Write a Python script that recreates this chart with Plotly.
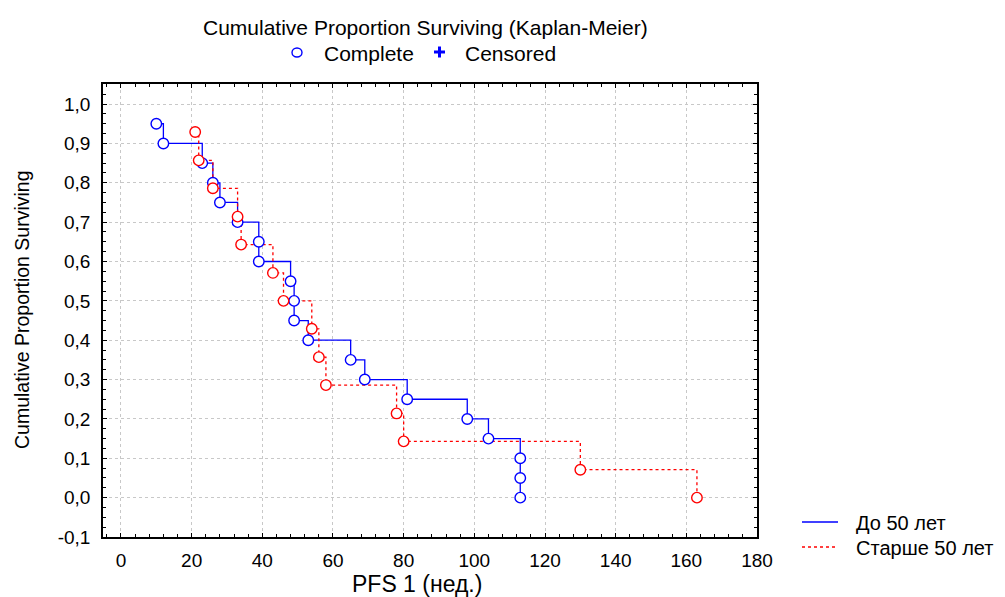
import plotly.graph_objects as go

# ---- data ----
young_time = [10, 12, 23, 26, 28, 33, 39, 39, 48, 49, 49, 53, 65, 69, 81, 98, 104, 113, 113, 113]
young_surv = [0.95, 0.90, 0.85, 0.80, 0.75, 0.70, 0.65, 0.60, 0.55, 0.50,
              0.45, 0.40, 0.35, 0.30, 0.25, 0.20, 0.15, 0.10, 0.05, 0.00]
old_time = [21, 22, 26, 33, 34, 43, 46, 54, 56, 58, 78, 80, 130, 163]
old_surv = [0.929, 0.857, 0.786, 0.714, 0.643, 0.571, 0.500, 0.429,
            0.357, 0.286, 0.214, 0.143, 0.071, 0.000]

x_ticks = [0, 20, 40, 60, 80, 100, 120, 140, 160, 180]
x_tick_labels = ["0", "20", "40", "60", "80", "100", "120", "140", "160", "180"]
y_ticks = [-0.1, 0.0, 0.1, 0.2, 0.3, 0.4, 0.5, 0.6, 0.7, 0.8, 0.9, 1.0]
y_tick_labels = ["-0,1", "0,0", "0,1", "0,2", "0,3", "0,4", "0,5", "0,6", "0,7", "0,8", "0,9", "1,0"]

series_names = ["До 50 лет", "Старше 50 лет"]
title_text = "Cumulative Proportion Surviving (Kaplan-Meier)"
x_title = "PFS 1 (нед.)"
y_title = "Cumulative Proportion Surviving"

BLUE = "#0000FF"
RED = "#FF0000"
FONT = "Liberation Sans, Arial, sans-serif"

W, H = 1005, 597
L, R, T, B = 103, 757, 84, 537  # plot area in pixels


def px(xp):
    return (xp - L) / (R - L)


def py(yp):
    return (B - yp) / (B - T)


fig = go.Figure()

# step lines
fig.add_trace(go.Scatter(x=young_time, y=young_surv, mode="lines", line_shape="hv",
                         line=dict(color=BLUE, width=1.3), showlegend=False, hoverinfo="skip"))
fig.add_trace(go.Scatter(x=old_time, y=old_surv, mode="lines", line_shape="hv",
                         line=dict(color=RED, width=1.3, dash="dot"), showlegend=False, hoverinfo="skip"))
# complete markers
fig.add_trace(go.Scatter(x=young_time, y=young_surv, mode="markers",
                         marker=dict(symbol="circle", size=10.5, color="white",
                                     line=dict(color=BLUE, width=1.4)), showlegend=False))
fig.add_trace(go.Scatter(x=old_time, y=old_surv, mode="markers",
                         marker=dict(symbol="circle", size=10.5, color="white",
                                     line=dict(color=RED, width=1.4)), showlegend=False))

axis_common = dict(
    showline=True, linecolor="black", linewidth=1.5, mirror="allticks",
    ticks="inside", ticklen=4, tickcolor="black", tickwidth=1,
    showgrid=True, gridcolor="#c8c8c8", griddash="dot", gridwidth=1,
    zeroline=False, tickfont=dict(family=FONT, size=19, color="black"),
)

fig.update_xaxes(range=[-5.09, 180], tickvals=x_ticks, ticktext=x_tick_labels,
                 minor=dict(dtick=4, tick0=0, ticks="inside", ticklen=3, tickcolor="black", showgrid=False),
                 ticklabelstandoff=5, **axis_common)
fig.update_yaxes(range=[-0.1, 1.051], tickvals=y_ticks, ticktext=y_tick_labels,
                 minor=dict(dtick=0.025, tick0=0, ticks="inside", ticklen=3, tickcolor="black", showgrid=False),
                 ticklabelstandoff=7, **axis_common)

annotations = [
    dict(text=title_text, x=px(425), y=py(27), xanchor="center", yanchor="middle",
         font=dict(family=FONT, size=21, color="black")),
    dict(text="Complete", x=px(322), y=py(53), xanchor="left", yanchor="middle",
         font=dict(family=FONT, size=21, color="black")),
    dict(text="Censored", x=px(463), y=py(53), xanchor="left", yanchor="middle",
         font=dict(family=FONT, size=21, color="black")),
    dict(text=x_title, x=px(417), y=py(584), xanchor="center", yanchor="middle",
         font=dict(family=FONT, size=23, color="black")),
    dict(text=y_title, x=px(22), y=py(310), xanchor="center", yanchor="middle", textangle=-90,
         font=dict(family=FONT, size=19.5, color="black")),
    dict(text=series_names[0], x=px(854), y=py(523), xanchor="left", yanchor="middle",
         font=dict(family=FONT, size=20, color="black")),
    dict(text=series_names[1], x=px(854), y=py(548), xanchor="left", yanchor="middle",
         font=dict(family=FONT, size=20, color="black")),
]
for a in annotations:
    a.update(xref="paper", yref="paper", showarrow=False)

shapes = [
    # top legend: open circle (Complete)
    dict(type="circle", x0=px(292), x1=px(302), y0=py(48), y1=py(57),
         line=dict(color=BLUE, width=1.4), fillcolor="white"),
    # plus (Censored)
    dict(type="line", x0=px(434), x1=px(445), y0=py(52), y1=py(52), line=dict(color=BLUE, width=3)),
    dict(type="line", x0=px(439.5), x1=px(439.5), y0=py(46.5), y1=py(57.5), line=dict(color=BLUE, width=3)),
    # bottom-right legend samples
    dict(type="line", x0=px(802), x1=px(838), y0=py(522), y1=py(522), line=dict(color=BLUE, width=1.3)),
    dict(type="line", x0=px(802), x1=px(838), y0=py(547), y1=py(547),
         line=dict(color=RED, width=1.3, dash="dot")),
]
for s in shapes:
    s.update(xref="paper", yref="paper")

fig.update_layout(
    width=W, height=H,
    margin=dict(l=L, r=W - R, t=T, b=H - B, pad=0),
    paper_bgcolor="white", plot_bgcolor="white",
    annotations=annotations, shapes=shapes,
    showlegend=False,
    font=dict(family=FONT, color="black"),
)

fig.write_html("out.html")
